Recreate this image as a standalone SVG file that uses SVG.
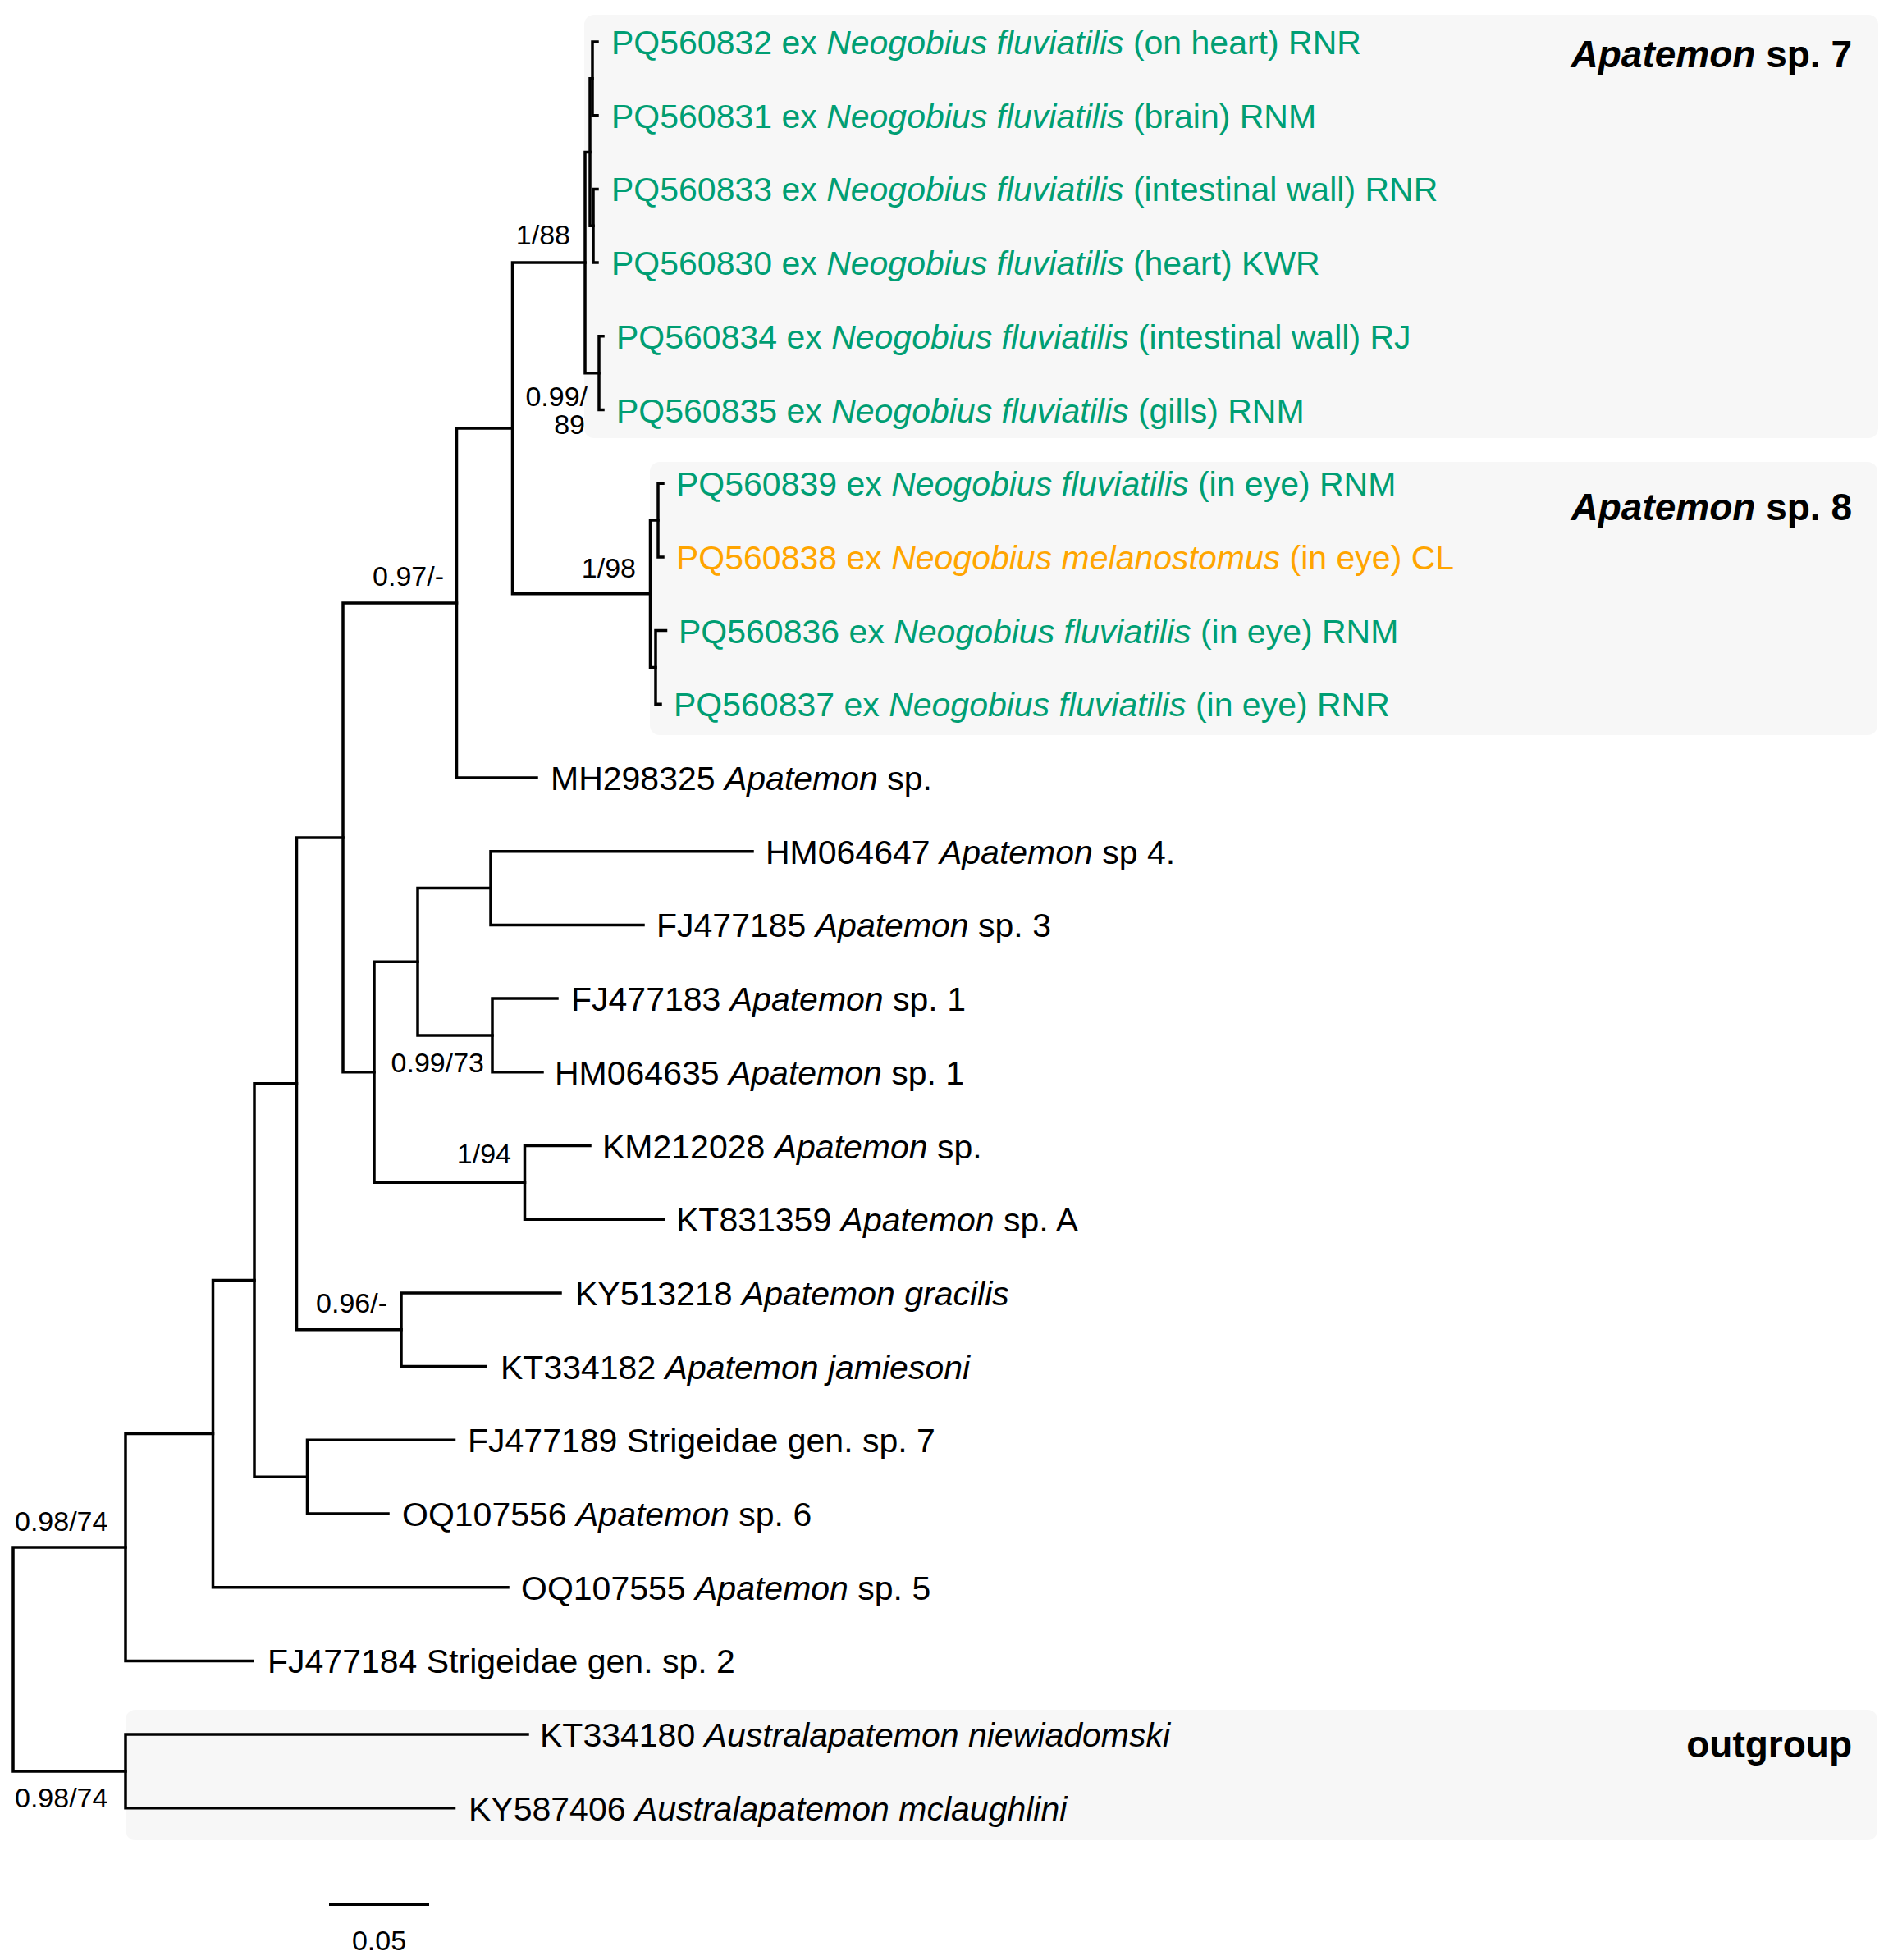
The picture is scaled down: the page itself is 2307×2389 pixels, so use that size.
<svg xmlns="http://www.w3.org/2000/svg" width="2307" height="2389" viewBox="0 0 2307 2389">
<style>
.bg{fill:#ffffff}
.box{fill:#f7f7f7;stroke:none}
.br{fill:none;stroke:#000;stroke-width:3.5;stroke-linecap:square;stroke-linejoin:miter}
.lab{font-family:"Liberation Sans",Arial,sans-serif;font-size:41px;fill:#000}
.g{fill:#009E73}
.o{fill:#FFA500}
.i{font-style:italic}
.sup{font-family:"Liberation Sans",Arial,sans-serif;font-size:34px;fill:#000}
.grp{font-family:"Liberation Sans",Arial,sans-serif;font-size:46px;font-weight:bold;fill:#000;text-anchor:end}
.end{text-anchor:end}
</style>
<rect class="bg" x="0" y="0" width="2307" height="2389"/>
<g id="clade-boxes">
<rect id="box-sp7" class="box" x="712" y="18" width="1577" height="516" rx="12"/>
<rect id="box-sp8" class="box" x="792" y="563" width="1496" height="333" rx="12"/>
<rect id="box-outgroup" class="box" x="153" y="2084" width="2135" height="159" rx="12"/>
</g>
<g id="connectors">
<path class="br" d="M728 51 H722 V140.7 H728"/>
<path class="br" d="M728 230.4 H723 V320.1 H728"/>
<path class="br" d="M722 95.85 H719 V275.25 H723"/>
<path class="br" d="M735 409.8 H730 V499.5 H735"/>
<path class="br" d="M719 185.55 H713 V454.65 H730"/>
<path class="br" d="M808 589.2 H802 V678.9 H808"/>
<path class="br" d="M811.5 768.6 H799 V858.3 H805"/>
<path class="br" d="M802 634.05 H792.5 V813.45 H799"/>
<path class="br" d="M713 320.1 H624.5 V723.75 H792.5"/>
<path class="br" d="M624.5 521.9 H556.5 V948 H654"/>
<path class="br" d="M917 1037.7 H598 V1127.4 H784"/>
<path class="br" d="M679 1217.1 H600 V1306.8 H661"/>
<path class="br" d="M598 1082.55 H509 V1261.95 H600"/>
<path class="br" d="M719 1396.5 H639.5 V1486.2 H808.5"/>
<path class="br" d="M509 1172.25 H456 V1441.35 H639.5"/>
<path class="br" d="M556.5 734.95 H418 V1306.8 H456"/>
<path class="br" d="M683 1575.9 H489 V1665.6 H592"/>
<path class="br" d="M418 1020.88 H361.5 V1620.75 H489"/>
<path class="br" d="M553.5 1755.3 H374.5 V1845 H473"/>
<path class="br" d="M361.5 1320.81 H310 V1800.15 H374.5"/>
<path class="br" d="M310 1560.48 H259.5 V1934.7 H619"/>
<path class="br" d="M259.5 1747.59 H153 V2024.4 H308"/>
<path class="br" d="M643 2114.1 H153 V2203.8 H553.5"/>
<path class="br" d="M153 1886 H16 V2158.95 H153"/>
</g>
<g id="tip-PQ560832"><text class="lab g" x="745" y="66"><tspan>PQ560832 ex </tspan><tspan class="i">Neogobius fluviatilis</tspan><tspan> (on heart) RNR</tspan></text></g>
<g id="tip-PQ560831"><text class="lab g" x="745" y="155.7"><tspan>PQ560831 ex </tspan><tspan class="i">Neogobius fluviatilis</tspan><tspan> (brain) RNM</tspan></text></g>
<g id="tip-PQ560833"><text class="lab g" x="745" y="245.4"><tspan>PQ560833 ex </tspan><tspan class="i">Neogobius fluviatilis</tspan><tspan> (intestinal wall) RNR</tspan></text></g>
<g id="tip-PQ560830"><text class="lab g" x="745" y="335.1"><tspan>PQ560830 ex </tspan><tspan class="i">Neogobius fluviatilis</tspan><tspan> (heart) KWR</tspan></text></g>
<g id="tip-PQ560834"><text class="lab g" x="751" y="424.8"><tspan>PQ560834 ex </tspan><tspan class="i">Neogobius fluviatilis</tspan><tspan> (intestinal wall) RJ</tspan></text></g>
<g id="tip-PQ560835"><text class="lab g" x="751" y="514.5"><tspan>PQ560835 ex </tspan><tspan class="i">Neogobius fluviatilis</tspan><tspan> (gills) RNM</tspan></text></g>
<g id="tip-PQ560839"><text class="lab g" x="824" y="604.2"><tspan>PQ560839 ex </tspan><tspan class="i">Neogobius fluviatilis</tspan><tspan> (in eye) RNM</tspan></text></g>
<g id="tip-PQ560838"><text class="lab o" x="824" y="693.9"><tspan>PQ560838 ex </tspan><tspan class="i">Neogobius melanostomus</tspan><tspan> (in eye) CL</tspan></text></g>
<g id="tip-PQ560836"><text class="lab g" x="827" y="783.6"><tspan>PQ560836 ex </tspan><tspan class="i">Neogobius fluviatilis</tspan><tspan> (in eye) RNM</tspan></text></g>
<g id="tip-PQ560837"><text class="lab g" x="821" y="873.3"><tspan>PQ560837 ex </tspan><tspan class="i">Neogobius fluviatilis</tspan><tspan> (in eye) RNR</tspan></text></g>
<g id="tip-MH298325"><text class="lab" x="671" y="963">MH298325 <tspan class="i">Apatemon</tspan> sp.</text></g>
<g id="tip-HM064647"><text class="lab" x="933" y="1052.7">HM064647 <tspan class="i">Apatemon</tspan> sp 4.</text></g>
<g id="tip-FJ477185"><text class="lab" x="800" y="1142.4">FJ477185 <tspan class="i">Apatemon</tspan> sp. 3</text></g>
<g id="tip-FJ477183"><text class="lab" x="696" y="1232.1">FJ477183 <tspan class="i">Apatemon</tspan> sp. 1</text></g>
<g id="tip-HM064635"><text class="lab" x="676" y="1321.8">HM064635 <tspan class="i">Apatemon</tspan> sp. 1</text></g>
<g id="tip-KM212028"><text class="lab" x="734" y="1411.5">KM212028 <tspan class="i">Apatemon</tspan> sp.</text></g>
<g id="tip-KT831359"><text class="lab" x="824" y="1501.2">KT831359 <tspan class="i">Apatemon</tspan> sp. A</text></g>
<g id="tip-KY513218"><text class="lab" x="701" y="1590.9">KY513218 <tspan class="i">Apatemon gracilis</tspan></text></g>
<g id="tip-KT334182"><text class="lab" x="610" y="1680.6">KT334182 <tspan class="i">Apatemon jamiesoni</tspan></text></g>
<g id="tip-FJ477189"><text class="lab" x="570" y="1770.3">FJ477189 Strigeidae gen. sp. 7</text></g>
<g id="tip-OQ107556"><text class="lab" x="490" y="1860">OQ107556 <tspan class="i">Apatemon</tspan> sp. 6</text></g>
<g id="tip-OQ107555"><text class="lab" x="635" y="1949.7">OQ107555 <tspan class="i">Apatemon</tspan> sp. 5</text></g>
<g id="tip-FJ477184"><text class="lab" x="326" y="2039.4">FJ477184 Strigeidae gen. sp. 2</text></g>
<g id="tip-KT334180"><text class="lab" x="658" y="2129.1">KT334180 <tspan class="i">Australapatemon niewiadomski</tspan></text></g>
<g id="tip-KY587406"><text class="lab" x="571" y="2218.8">KY587406 <tspan class="i">Australapatemon mclaughlini</tspan></text></g>
<g id="support-labels">
<text class="sup end" x="695" y="298">1/88</text>
<text class="sup end" x="716" y="495">0.99/</text>
<text class="sup end" x="713" y="529">89</text>
<text class="sup end" x="775" y="704">1/98</text>
<text class="sup end" x="541" y="714">0.97/-</text>
<text class="sup end" x="590" y="1307">0.99/73</text>
<text class="sup end" x="623" y="1418">1/94</text>
<text class="sup end" x="472" y="1600">0.96/-</text>
<text class="sup" x="18" y="1866">0.98/74</text>
<text class="sup" x="18" y="2203">0.98/74</text>
</g>
<g id="group-labels">
<text class="grp" x="2257" y="82"><tspan font-style="italic">Apatemon</tspan> sp. 7</text>
<text class="grp" x="2257" y="634"><tspan font-style="italic">Apatemon</tspan> sp. 8</text>
<text class="grp" x="2257" y="2142">outgroup</text>
</g>
<g id="scale-bar">
<line x1="401" y1="2321" x2="523" y2="2321" stroke="#000" stroke-width="4"/>
<text class="sup" x="462" y="2377" text-anchor="middle">0.05</text>
</g>
</svg>
